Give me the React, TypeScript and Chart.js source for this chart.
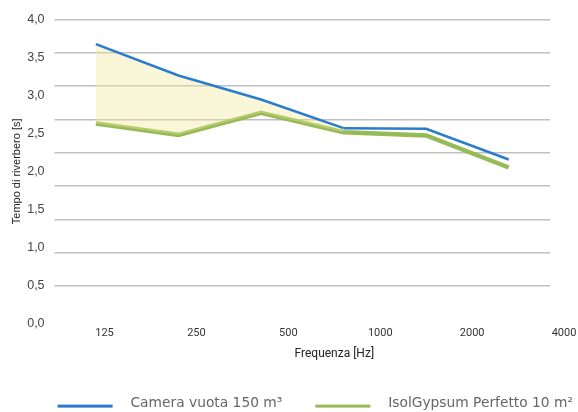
import React, { useEffect, useRef } from 'react';
import { Chart, registerables } from 'chart.js';

Chart.register(...registerables);

// ---- data ----
const FREQUENCIES = ['125', '250', '500', '1000', '2000', '4000'];
const EMPTY_ROOM = [3.63, 3.16, 2.8, 2.37, 2.36, 1.9];
const ISOLGYPSUM = [2.44, 2.27, 2.6, 2.31, 2.26, 1.78];
const SERIES_NAMES = ['Camera vuota 150 m³', 'IsolGypsum Perfetto 10 m²'];
const Y_MIN = 0;
const Y_MAX = 4;
const Y_STEP = 0.5;
const FILLED_SEGMENTS = 3; // shaded area between the two curves: 125 → 1000 Hz

// ---- style ----
const BLUE = 'rgb(42, 124, 206)';
const GREEN = 'rgb(150, 186, 86)';
const FILL = 'rgba(242, 234, 150, 0.36)';
const GRID = 'rgb(192, 192, 192)';

function legendLine(color: string) {
  const c = document.createElement('canvas');
  c.width = 94;
  c.height = 12;
  const g = c.getContext('2d')!;
  g.fillStyle = color;
  g.fillRect(28, 7, 55, 3);
  return c;
}

// The tick-label axes of the original graphic are spread wider than the plot grid.
const stretchLabelAxes = {
  id: 'stretchLabelAxes',
  afterLayout(chart: any) {
    const xl = chart.scales.xl;
    if (xl) {
      xl.left += 4;
      xl.right += 60;
      xl.width = xl.right - xl.left;
      xl.configure();
    }
    const yl = chart.scales.yl;
    if (yl) {
      yl.bottom += 37;
      yl.height = yl.bottom - yl.top;
      yl.configure();
    }
  },
};

export default function App() {
  const ref = useRef<HTMLCanvasElement>(null);

  useEffect(() => {
    const chart = new Chart(ref.current!, {
      type: 'line',
      data: {
        labels: FREQUENCIES,
        datasets: [
          {
            label: SERIES_NAMES[0],
            data: EMPTY_ROOM,
            xAxisID: 'x',
            yAxisID: 'y',
            borderColor: BLUE,
            backgroundColor: FILL,
            borderWidth: 2.5,
            pointRadius: 0,
            pointHoverRadius: 0,
            pointStyle: legendLine(BLUE) as any,
            tension: 0,
            fill: '+1',
            segment: {
              backgroundColor: (ctx: any) =>
                ctx.p0DataIndex < FILLED_SEGMENTS ? FILL : 'rgba(0,0,0,0)',
            },
          },
          {
            label: SERIES_NAMES[1],
            data: ISOLGYPSUM,
            xAxisID: 'x',
            yAxisID: 'y',
            borderColor: GREEN,
            backgroundColor: GREEN,
            borderWidth: 4.5,
            pointRadius: 0,
            pointHoverRadius: 0,
            pointStyle: legendLine(GREEN) as any,
            tension: 0,
            fill: false,
          },
        ],
      },
      options: {
        animation: false,
        responsive: true,
        maintainAspectRatio: false,
        events: [],
        layout: { padding: { top: 19.5, left: 4, right: 0, bottom: -8.5 } },
        scales: {
          x: {
            type: 'category',
            labels: FREQUENCIES,
            offset: true,
            display: false,
          },
          xl: {
            type: 'category',
            labels: FREQUENCIES,
            position: 'bottom',
            offset: true,
            grid: { display: false, drawTicks: true, tickLength: 38 },
            border: { display: false },
            ticks: {
              autoSkip: false,
              maxRotation: 0,
              padding: 2,
              color: '#333',
              font: { family: 'Roboto', size: 11 },
            },
            title: {
              display: true,
              text: 'Frequenza [Hz]',
              color: '#222',
              font: { family: 'Roboto', size: 12 },
              padding: { top: 5.6, bottom: 30.3 },
            },
          },
          y: {
            type: 'linear',
            position: 'right',
            min: Y_MIN,
            max: Y_MAX,
            ticks: { display: false, stepSize: Y_STEP },
            grid: { color: GRID, lineWidth: 1.5, drawTicks: false },
            border: { display: false },
            afterFit: (s: any) => {
              s.width = 28;
            },
          },
          yl: {
            type: 'linear',
            position: 'left',
            min: Y_MIN,
            max: Y_MAX,
            grid: { display: false, drawTicks: true, tickLength: 8 },
            border: { display: false },
            ticks: {
              stepSize: Y_STEP,
              padding: 2,
              color: '#444',
              font: { family: 'Liberation Sans', size: 12.5 },
              callback: (v: any) => Number(v).toFixed(1).replace('.', ','),
            },
            title: {
              display: true,
              text: 'Tempo di riverbero [s]',
              color: '#222',
              font: { family: 'Liberation Sans', size: 11 },
              padding: { top: 6, bottom: 2 },
            },
          },
        },
        plugins: {
          legend: {
            position: 'bottom',
            align: 'end',
            labels: {
              usePointStyle: true,
              pointStyleWidth: 94,
              padding: 5,
              color: '#666',
              font: { family: 'DejaVu Sans', size: 13.8 },
            },
          },
          tooltip: { enabled: false },
        },
      },
      plugins: [stretchLabelAxes],
    } as any);
    return () => chart.destroy();
  }, []);

  return (
    <div style={{ position: 'absolute', left: 0, top: 0, width: 578, height: 412 }}>
      <canvas ref={ref} />
    </div>
  );
}
